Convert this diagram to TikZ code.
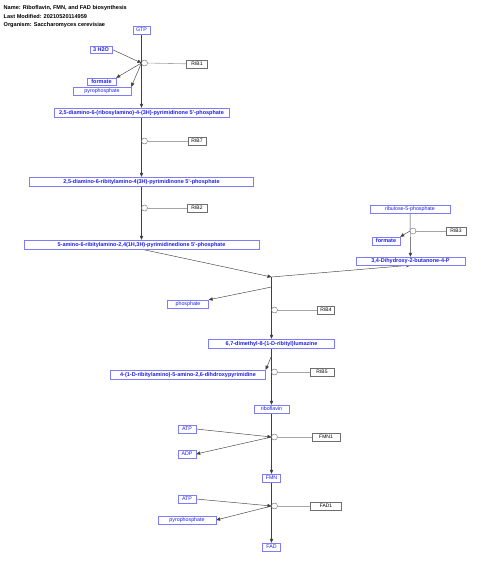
\documentclass[tikz,border=0pt]{standalone}
\usepackage{fontspec}
\setmainfont{Liberation Sans}
\usetikzlibrary{arrows.meta}
\pgfdeclarelayer{bg}
\pgfsetlayers{bg,main}
\definecolor{mtext}{RGB}{30,30,235}
\definecolor{mline}{RGB}{125,125,250}
\definecolor{gline}{RGB}{110,110,110}

\tikzset{
    metab/.style={draw=mline, text=mtext, fill=white, inner sep=0pt, minimum height=8pt,
        text height=4.3pt, text depth=0.6pt, font=\fontsize{5.5}{6}\selectfont\bfseries},
    metabn/.style={metab, font=\fontsize{5.3}{6}\selectfont},
    gene/.style={draw=gline, text=black, fill=white, inner sep=0pt, minimum height=8pt,
        text height=4pt, text depth=0.5pt, font=\fontsize{5}{6}\selectfont},
    anc/.style={circle, draw=gray!80!black, fill=white, inner sep=0pt, minimum size=6pt},
    conv/.style={draw=gray!50!black, line width=0.45pt, -{Triangle[length=4pt,width=3.4pt]}},
    link/.style={draw=gray!70, line width=0.6pt},
    hdr/.style={anchor=west, inner sep=0pt, font=\fontsize{5.6}{6}\selectfont\bfseries}
}

\begin{document}
\begin{tikzpicture}[x=1pt, y=-1pt]
    \useasboundingbox (0,0) rectangle (480,567);

    \node (name) [hdr] at (3.5, 8) {Name: Riboflavin, FMN, and FAD biosynthesis};
    \node (mod) [hdr] at (3.5, 16.5) {Last Modified: 20210520114959};
    \node (org) [hdr] at (3.5, 25) {Organism: Saccharomyces cerevisiae};

    \node (gtp) [metabn, minimum width=17pt] at (141.5, 30) {GTP};
    \node (h2o) [metab, minimum width=22pt, minimum height=7pt] at (101, 49.5) {3 H2O};
    \node (formA) [metab, minimum width=29pt, minimum height=7pt] at (101.5, 81.5) {formate};
    \node (ppiA) [metabn, minimum width=58pt] at (102, 91) {pyrophosphate};
    \node (c1) [metab, minimum width=175pt, minimum height=9pt] at (141.5, 112.5) {2,5-diamino-6-(ribosylamino)-4-(3H)-pyrimidinone 5'-phosphate};
    \node (c2) [metab, minimum width=224pt, minimum height=9pt] at (141.5, 181.5) {2,5-diamino-6-ribitylamino-4(3H)-pyrimidinone 5'-phosphate};
    \node (c3) [metab, minimum width=235pt, minimum height=9pt] at (141.5, 244.5) {5-amino-6-ribitylamino-2,4(1H,3H)-pyrimidinedione 5'-phosphate};
    \node (ru5p) [metabn, minimum width=80pt] at (410, 209) {ribulose-5-phosphate};
    \node (formB) [metab, minimum width=28pt] at (386, 241) {formate};
    \node (dhbp) [metab, minimum width=109pt] at (410.5, 261) {3,4-Dihydroxy-2-butanone-4-P};
    \node (pho) [metabn, minimum width=41pt] at (188, 304) {phosphate};
    \node (lum) [metab, minimum width=126pt, minimum height=9pt] at (271.5, 343.5) {6,7-dimethyl-8-(1-D-ribityl)lumazine};
    \node (ddp) [metab, minimum width=155pt, minimum height=9pt] at (188, 374.5) {4-(1-D-ribitylamino)-5-amino-2,6-dihdroxypyrimidine};
    \node (ribf) [metabn, minimum width=35pt] at (271.5, 409) {riboflavin};
    \node (atpA) [metabn, minimum width=18pt] at (187, 429) {ATP};
    \node (adp) [metabn, minimum width=18pt] at (187, 454) {ADP};
    \node (fmn) [metabn, minimum width=18pt] at (271.5, 478) {FMN};
    \node (atpB) [metabn, minimum width=18pt] at (187, 499) {ATP};
    \node (ppiB) [metabn, minimum width=58pt] at (187, 520) {pyrophosphate};
    \node (fad) [metabn, minimum width=18pt] at (271.5, 547) {FAD};

    \node (rib1) [gene, minimum width=21pt] at (197, 64) {RIB1};
    \node (rib7) [gene, minimum width=18pt] at (197, 141) {RIB7};
    \node (rib2) [gene, minimum width=20pt] at (197, 208) {RIB2};
    \node (rib3) [gene, minimum width=20pt] at (456, 231) {RIB3};
    \node (rib4) [gene, minimum width=17pt] at (326, 310) {RIB4};
    \node (rib5) [gene, minimum width=24pt] at (322, 372) {RIB5};
    \node (fmn1) [gene, minimum width=28pt] at (326, 437) {FMN1};
    \node (fad1) [gene, minimum width=31pt] at (326, 506) {FAD1};

    \coordinate (j1) at (141.5, 63);
    \coordinate (j4) at (410, 231);
    \coordinate (jc) at (271.5, 277);
    \coordinate (jp) at (271.5, 287);
    \coordinate (jd) at (271.5, 356);
    \coordinate (j7) at (271.5, 437);
    \coordinate (j8) at (271.5, 506);

    \node (a1) [anc] at (144.5, 63) {};
    \node (a2) [anc] at (144.5, 141) {};
    \node (a3) [anc] at (144.5, 208) {};
    \node (a4) [anc] at (413, 231) {};
    \node (a5) [anc] at (274.5, 310) {};
    \node (a6) [anc] at (274.5, 372) {};
    \node (a7) [anc] at (274.5, 437) {};
    \node (a8) [anc] at (274.5, 506) {};

    \begin{pgfonlayer}{bg}
        \draw (gtp) edge[conv] (c1);
        \draw (h2o.east) edge[conv] (j1);
        \draw (j1) edge[conv] (formA.north east);
        \draw (j1) edge[conv] (ppiA.north east);
        \draw (c1) edge[conv] (c2);
        \draw (c2) edge[conv] (c3);
        \draw (c3.south) edge[conv] (jc);
        \draw (jc) edge[conv] (dhbp.south);
        \draw (ru5p) edge[conv] (dhbp);
        \draw (j4) edge[conv] (formB.north east);
        \draw (jc) edge[conv] (lum);
        \draw (jp) edge[conv] (pho.north east);
        \draw (lum) edge[conv] (ribf);
        \draw (jd) edge[conv] (ddp.north east);
        \draw (ribf) edge[conv] (fmn);
        \draw (atpA.east) edge[conv] (j7);
        \draw (j7) edge[conv] (adp.east);
        \draw (fmn) edge[conv] (fad);
        \draw (atpB.east) edge[conv] (j8);
        \draw (j8) edge[conv] (ppiB.east);
        \draw (a1) edge[link] (rib1);
        \draw (a2) edge[link] (rib7);
        \draw (a3) edge[link] (rib2);
        \draw (a4) edge[link] (rib3);
        \draw (a5) edge[link] (rib4);
        \draw (a6) edge[link] (rib5);
        \draw (a7) edge[link] (fmn1);
        \draw (a8) edge[link] (fad1);
    \end{pgfonlayer}
\end{tikzpicture}
\end{document}
